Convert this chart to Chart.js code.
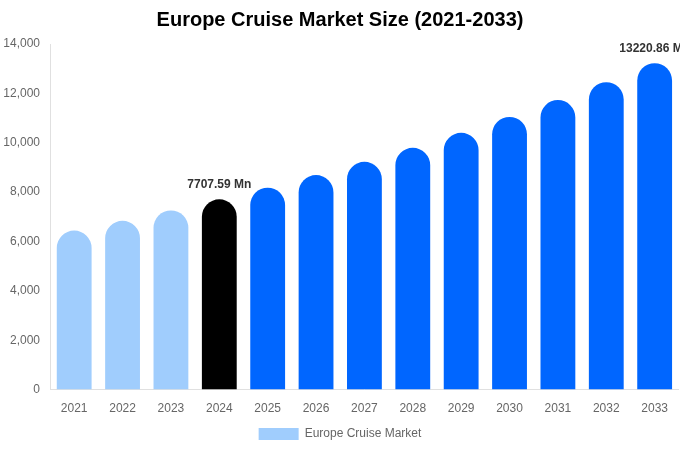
<!DOCTYPE html>
<html>
<head>
<meta charset="utf-8">
<script src="https://cdn.jsdelivr.net/npm/chart.js@4/dist/chart.umd.min.js"></script>
<style>
html,body{margin:0;padding:0;background:#fff;}
#wrap{width:680px;height:450px;}
</style>
</head>
<body>
<div id="wrap"><canvas id="c"></canvas></div>
<script>
const years = ['2021','2022','2023','2024','2025','2026','2027','2028','2029','2030','2031','2032','2033'];
const marketSize = [6440, 6835, 7260, 7707.59, 8180, 8690, 9225, 9795, 10400, 11045, 11730, 12455, 13220.86];
const barColors = ['#a0cdfd','#a0cdfd','#a0cdfd','#000000','#0066ff','#0066ff','#0066ff','#0066ff','#0066ff','#0066ff','#0066ff','#0066ff','#0066ff'];
const labelledIdx = [3, 12];
const seriesName = 'Europe Cruise Market';
const chartTitle = 'Europe Cruise Market Size (2021-2033)';

const valueLabels = {
  id: 'valueLabels',
  afterDatasetsDraw(chart) {
    const ctx = chart.ctx;
    const meta = chart.getDatasetMeta(0);
    ctx.save();
    ctx.font = 'bold 12px "Liberation Sans", Arial, sans-serif';
    ctx.fillStyle = '#333333';
    ctx.textAlign = 'center';
    ctx.textBaseline = 'middle';
    labelledIdx.forEach(i => {
      const el = meta.data[i];
      ctx.fillText(marketSize[i].toFixed(2) + ' Mn', el.x, el.y - 15);
    });
    ctx.restore();
  }
};

new Chart(document.getElementById('c'), {
  type: 'bar',
  data: {
    labels: years,
    datasets: [{
      label: seriesName,
      data: marketSize,
      backgroundColor: barColors,
      borderRadius: {topLeft: 100, topRight: 100, bottomLeft: 0, bottomRight: 0},
      borderSkipped: false,
      barPercentage: 0.8,
      categoryPercentage: 0.9
    }]
  },
  options: {
    responsive: true,
    maintainAspectRatio: false,
    animation: false,
    layout: {padding: {top: 0, right: 0, left: 0, bottom: 0}},
    plugins: {
      title: {
        display: true,
        text: chartTitle,
        color: '#000000',
        font: {family: '"Liberation Sans", Arial, sans-serif', size: 20, weight: 'bold'},
        padding: {top: 8, bottom: 12}
      },
      legend: {
        position: 'bottom',
        labels: {
          color: '#666666',
          boxWidth: 40,
          boxHeight: 12,
          padding: 0,
          font: {family: '"Liberation Sans", Arial, sans-serif', size: 12},
          generateLabels: () => [{text: seriesName, fillStyle: '#a0cdfd', strokeStyle: '#a0cdfd', lineWidth: 0, fontColor: '#666666', datasetIndex: 0}]
        }
      },
      tooltip: {enabled: false}
    },
    scales: {
      x: {
        grid: {display: false, drawTicks: false},
        border: {display: true, color: '#e0e0e0'},
        ticks: {color: '#666666', padding: 12, font: {family: '"Liberation Sans", Arial, sans-serif', size: 12}}
      },
      y: {
        min: 0, max: 14000,
        grid: {display: false, drawTicks: false},
        border: {display: true, color: '#e0e0e0'},
        afterFit: s => { s.width = 50; },
        ticks: {stepSize: 2000, color: '#666666', padding: 10, font: {family: '"Liberation Sans", Arial, sans-serif', size: 12},
          callback: v => v.toLocaleString('en-US')}
      }
    }
  },
  plugins: [valueLabels]
});
</script>
</body>
</html>
